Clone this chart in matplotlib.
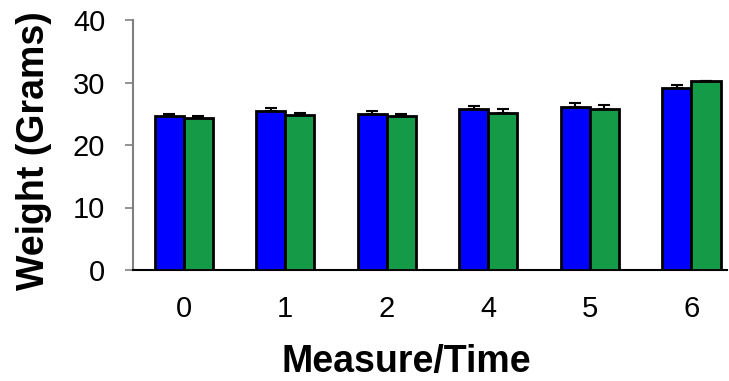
import matplotlib
matplotlib.use("Agg")
import matplotlib.pyplot as plt
import numpy as np

# weights per measure/time point, two groups
times = ["0", "1", "2", "4", "5", "6"]
blue_vals = [24.6, 25.4, 24.9, 25.7, 26.1, 29.1]
blue_err = [0.4, 0.6, 0.5, 0.6, 0.6, 0.5]
green_vals = [24.4, 24.8, 24.7, 25.1, 25.8, 30.2]
green_err = [0.3, 0.3, 0.3, 0.6, 0.6, 0.0]

plt.rcParams['font.family'] = ['Liberation Sans', 'DejaVu Sans']

fig = plt.figure(figsize=(7.29, 3.81), dpi=100)
ax = fig.add_axes([133/729, 111/381, 594/729, 250/381])

x = np.arange(len(times))
w = 0.286
err_kw = dict(ecolor='black', elinewidth=1.5, capsize=4.5, capthick=1.5)

ax.bar(x - w/2, blue_vals, w, color='#0000FF', edgecolor='black', linewidth=2,
       yerr=[np.zeros(len(blue_err)), blue_err], error_kw=err_kw, zorder=3)
ax.bar(x + w/2, green_vals, w, color='#159A48', edgecolor='black', linewidth=2,
       yerr=[np.zeros(len(green_err)), green_err], error_kw=err_kw, zorder=3)

ax.set_xlim(-0.5, 5.35)
ax.set_ylim(0, 40)
ax.set_yticks([0, 10, 20, 30, 40])
ax.set_xticks(x)
ax.set_xticklabels(times)

ax.spines['top'].set_visible(False)
ax.spines['right'].set_visible(False)
ax.spines['left'].set_color('#808080')
ax.spines['left'].set_linewidth(1.5)
ax.spines['bottom'].set_color('black')
ax.spines['bottom'].set_linewidth(1.5)

ax.tick_params(axis='y', direction='out', length=6, width=1.2, color='#808080',
               labelsize=21, pad=14)
ax.tick_params(axis='x', length=0, labelsize=21, pad=18)

ax.set_xlabel("Measure/Time", fontsize=27, fontweight='bold')
ax.set_ylabel("Weight (Grams)", fontsize=27, fontweight='bold')
ax.xaxis.set_label_coords(0.46, -0.295, transform=ax.transAxes)
ax.xaxis.label.set_va('top')
ax.yaxis.set_label_coords(-0.137, 0.476, transform=ax.transAxes)

fig.savefig("out.png", dpi=100)
